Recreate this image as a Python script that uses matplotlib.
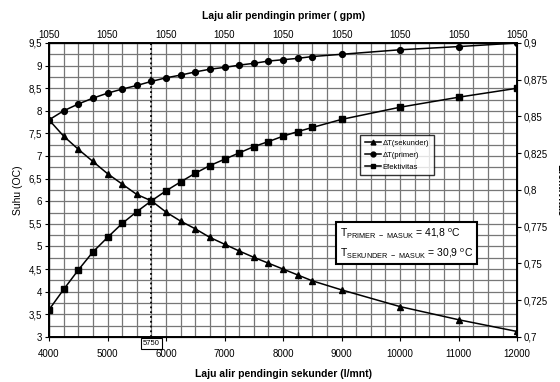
import matplotlib
matplotlib.use("Agg")
import matplotlib.pyplot as plt
from matplotlib.ticker import FixedLocator, MultipleLocator, FuncFormatter

plt.rcParams['font.family'] = ['Liberation Sans', 'DejaVu Sans']
plt.rcParams['mathtext.default'] = 'regular'

# laju alir sekunder (l/mnt)
flow = [4000, 4250, 4500, 4750, 5000, 5250, 5500, 5750, 6000, 6250, 6500,
        6750, 7000, 7250, 7500, 7750, 8000, 8250, 8500, 9000, 10000, 11000, 12000]
dt_sekunder = [7.80, 7.44, 7.15, 6.88, 6.61, 6.38, 6.15, 6.01, 5.76, 5.56, 5.39,
               5.20, 5.05, 4.90, 4.76, 4.63, 4.50, 4.37, 4.24, 4.04, 3.67, 3.38, 3.12]
dt_primer = [7.80, 8.00, 8.15, 8.28, 8.39, 8.48, 8.56, 8.65, 8.73, 8.79, 8.86,
             8.92, 8.96, 9.01, 9.05, 9.10, 9.13, 9.16, 9.20, 9.25, 9.35, 9.42, 9.50]
efektivitas = [0.7185, 0.7323, 0.7455, 0.7578, 0.7677, 0.7772, 0.7852, 0.7926,
               0.7994, 0.8055, 0.8114, 0.8166, 0.8209, 0.8252, 0.8295, 0.8329,
               0.8366, 0.8397, 0.8425, 0.8480, 0.8563, 0.8631, 0.8692]

x_ticks = [4000, 5000, 6000, 7000, 8000, 9000, 10000, 11000, 12000]
top_labels = ['1050'] * len(x_ticks)
left_ticks = [3, 3.5, 4, 4.5, 5, 5.5, 6, 6.5, 7, 7.5, 8, 8.5, 9, 9.5]
right_ticks = [0.7, 0.725, 0.75, 0.775, 0.8, 0.825, 0.85, 0.875, 0.9]
x_mark = 5750

def koma(v, pos=None):
    s = ('%.3f' % v).rstrip('0').rstrip('.')
    return s.replace('.', ',')

fig = plt.figure(figsize=(5.6, 3.82), dpi=100)
ax = fig.add_axes([0.0875, 0.118, 0.836, 0.7695])

ax.set_xlim(4000, 12000)
ax.set_ylim(3, 9.5)
ax.xaxis.set_major_locator(FixedLocator(x_ticks))
ax.xaxis.set_minor_locator(MultipleLocator(250))
ax.yaxis.set_major_locator(FixedLocator(left_ticks))
ax.yaxis.set_minor_locator(MultipleLocator(0.25))
ax.yaxis.set_major_formatter(FuncFormatter(koma))
ax.grid(True, which='both', color='#777777', lw=0.9)
ax.set_axisbelow(True)
ax.tick_params(which='minor', length=0)
ax.tick_params(which='major', length=3, width=0.8, labelsize=7, pad=2)
ax.tick_params(axis='x', which='major', pad=6)
for s in ax.spines.values():
    s.set_linewidth(1.4)

ax.axvline(x_mark, color='black', ls=':', lw=1.3, zorder=2)

l1, = ax.plot(flow, dt_sekunder, color='black', lw=1.1, marker='^', ms=4.5,
              label='\u0394T(sekunder)', zorder=3)
l2, = ax.plot(flow, dt_primer, color='black', lw=1.1, marker='o', ms=4.2,
              label='\u0394T(primer)', zorder=3)

ax2 = ax.twinx()
ax2.set_ylim(0.7, 0.9)
ax2.yaxis.set_major_locator(FixedLocator(right_ticks))
ax2.yaxis.set_major_formatter(FuncFormatter(koma))
ax2.tick_params(length=3, width=0.8, labelsize=7, pad=2)
l3, = ax2.plot(flow, efektivitas, color='black', lw=1.1, marker='s', ms=4.5,
               label='Efektivitas', zorder=3)

ax.set_ylabel('Suhu (OC)', fontsize=7.5, labelpad=4)
ax.set_xlabel('Laju alir pendingin sekunder (l/mnt)', fontsize=7.5,
              fontweight='bold', labelpad=7)
ax2.set_ylabel('Efektivitas', fontsize=7.5, fontweight='bold', rotation=270,
               labelpad=12)

top = ax.twiny()
top.set_xlim(ax.get_xlim())
top.xaxis.set_major_locator(FixedLocator(x_ticks))
top.set_xticklabels(top_labels)
top.tick_params(length=0, labelsize=7, pad=2)
top.set_xlabel('Laju alir pendingin primer ( gpm)', fontsize=7.5,
               fontweight='bold', labelpad=8)

ax.annotate(str(x_mark), xy=(x_mark, 0), xycoords=('data', 'axes fraction'),
            xytext=(0, -5), textcoords='offset points', ha='center', va='center',
            fontsize=5.5, zorder=5,
            bbox=dict(boxstyle='square,pad=0.25', fc='white', ec='black', lw=0.8))

leg = ax2.legend(handles=[l1, l2, l3], loc='upper left',
                 bbox_to_anchor=(0.656, 0.70), fontsize=5.5, frameon=True,
                 fancybox=False, edgecolor='black', handlelength=2.2,
                 borderpad=0.6, labelspacing=0.6, handletextpad=0.2)
leg.get_frame().set_linewidth(1.0)
for h in leg.legend_handles:
    h.set_markersize(3.5)

ax2.text(0.622, 0.32,
         'T$_{PRIMER\\ -\\ MASUK}$ = 41,8 $^{o}$C\nT$_{SEKUNDER\\ -\\ MASUK}$ = 30,9 $^{o}$C',
         transform=ax.transAxes, fontsize=7.5, va='center', ha='left',
         linespacing=1.6, zorder=6,
         bbox=dict(boxstyle='square,pad=0.4', fc='white', ec='black', lw=1.5))

fig.savefig('out.png', dpi=100)
